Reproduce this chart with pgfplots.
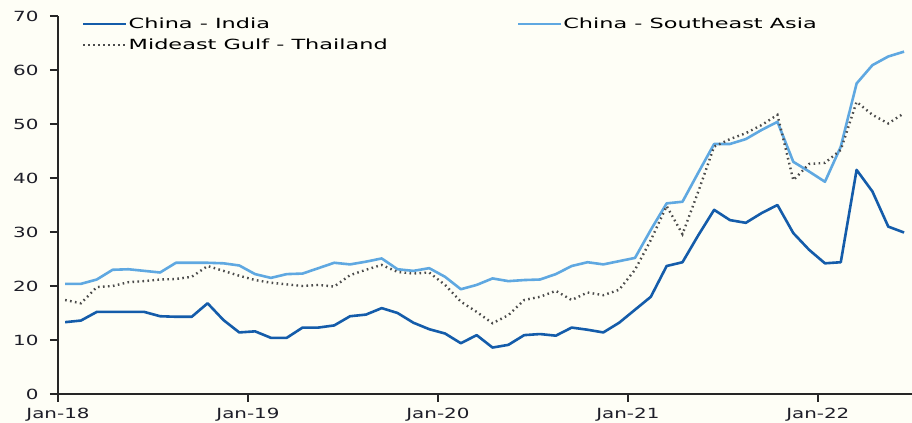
\documentclass[border=0pt]{standalone}
\usepackage{pgfplots}
\pgfplotsset{compat=1.18}
\usepackage{pgfplotstable}
\usepackage{fontspec}
\setmainfont[FakeStretch=1.42]{DejaVu Sans}
\newfontfamily\legfont[FakeStretch=1.6]{DejaVu Sans}
\usetikzlibrary{backgrounds}
\definecolor{darkblue}{RGB}{20,92,170}
\definecolor{lightblue}{RGB}{95,168,225}
\definecolor{dotgray}{RGB}{75,75,75}
\definecolor{bg}{RGB}{254,254,246}
\definecolor{ticktext}{RGB}{30,30,40}

\pgfplotstableread{
m  ci    csea  mgt
0  13.3  20.4  17.4
1  13.6  20.4  16.8
2  15.2  21.2  19.8
3  15.2  23.0  20.0
4  15.2  23.1  20.7
5  15.2  22.8  20.9
6  14.4  22.5  21.2
7  14.3  24.3  21.3
8  14.3  24.3  21.7
9  16.8  24.3  23.7
10 13.7  24.2  22.8
11 11.4  23.8  21.9
12 11.6  22.2  21.1
13 10.4  21.5  20.6
14 10.4  22.2  20.3
15 12.3  22.3  20.0
16 12.3  23.3  20.2
17 12.7  24.3  19.9
18 14.4  24.0  22.0
19 14.7  24.5  23.0
20 15.9  25.1  23.9
21 15.0  23.1  22.6
22 13.2  22.8  22.3
23 12.0  23.3  22.5
24 11.2  21.7  20.2
25 9.4   19.4  17.1
26 10.9  20.2  15.2
27 8.6   21.4  13.1
28 9.1   20.9  14.6
29 10.9  21.1  17.4
30 11.1  21.2  18.0
31 10.8  22.2  19.1
32 12.3  23.7  17.4
33 11.9  24.4  18.8
34 11.4  24.0  18.3
35 13.2  24.6  19.3
36 15.6  25.2  23.0
37 18.0  30.4  28.5
38 23.7  35.3  34.8
39 24.4  35.6  29.6
40 29.4  41.0  37.5
41 34.1  46.3  45.8
42 32.2  46.3  47.2
43 31.7  47.2  48.3
44 33.5  48.9  49.8
45 35.0  50.4  51.7
46 29.8  43.0  39.6
47 26.7  41.2  42.6
48 24.2  39.3  42.8
49 24.4  45.8  45.2
50 41.5  57.5  54.1
51 37.5  60.9  51.7
52 31.0  62.5  50.1
53 29.9  63.4  52.0
}\datatable

\begin{document}
\begin{tikzpicture}[show background rectangle,
  background rectangle/.style={fill=bg,draw=none},
  inner frame sep=0pt]
\begin{axis}[
  scale only axis,
  width=854pt, height=378pt,
  xmin=-0.45, xmax=53.5,
  ymin=0, ymax=70,
  axis lines*=left,
  axis line style={line width=1.6pt, color=black!85},
  xtick={-0.45,11.55,23.55,35.55,47.55},
  xticklabels={Jan-18,Jan-19,Jan-20,Jan-21,Jan-22},
  ytick={0,10,...,70},
  yticklabels={0,10,20,30,40,50,60,70},
  tick align=outside,
  major tick length=8pt,
  tick style={line width=1.4pt, color=black!85},
  tick label style={font=\fontsize{14}{16}\selectfont, text=ticktext},
  xticklabel style={yshift=-3pt},
  yticklabel style={xshift=-8pt},
  legend columns=2,
  legend cell align=left,
  legend style={draw=none, fill=none, at={(rel axis cs:0.028,0.998)}, anchor=north west,
    font=\legfont\fontsize{14}{16}\selectfont, inner sep=0pt, row sep=7pt,
    nodes={inner sep=1pt},
    /tikz/column 2/.style={column sep=128pt}},
  legend image code/.code={\draw[#1] (0pt,0pt) -- (43pt,0pt);},
]
\addplot[darkblue, line width=2.6pt, line join=round] table[x=m, y=ci] {\datatable};
\addlegendentry{China - India}
\addplot[lightblue, line width=2.6pt, line join=round] table[x=m, y=csea] {\datatable};
\addlegendentry{China - Southeast Asia}
\addplot[dotgray, line width=2.4pt, dash pattern=on 1.6pt off 3.4pt] table[x=m, y=mgt] {\datatable};
\addlegendentry{Mideast Gulf - Thailand}
\end{axis}
\pgfresetboundingbox
\useasboundingbox ([xshift=-58pt,yshift=16pt]current axis.north west) rectangle ([yshift=-29pt]current axis.south east);
\end{tikzpicture}
\end{document}
